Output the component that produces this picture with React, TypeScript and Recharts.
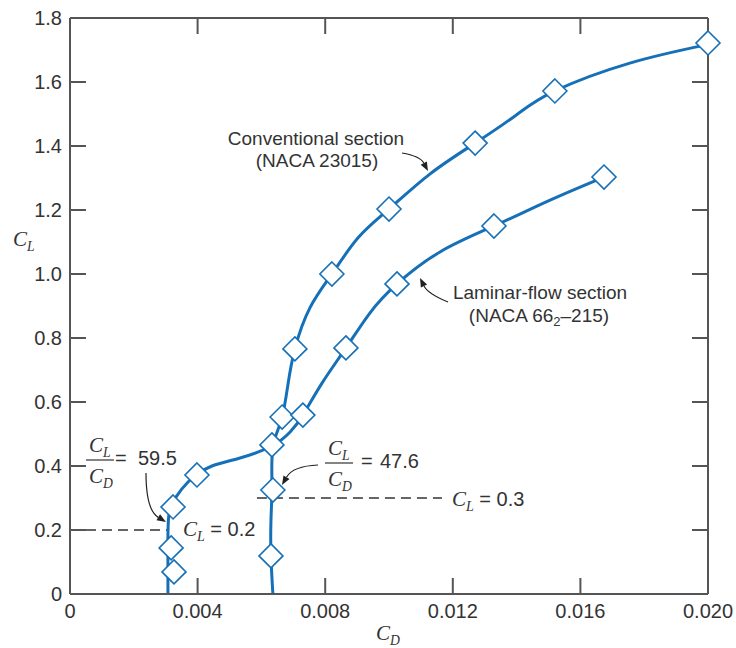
import React from 'react';
import { ComposedChart, Line, Scatter, XAxis, YAxis, ReferenceLine, Customized } from 'recharts';

// measured points (diamond markers), CD vs CL
const conventionalPoints = [
  { cd: 0.0063, cl: 0.119 },
  { cd: 0.00636, cl: 0.325 },
  { cd: 0.00665, cl: 0.553 },
  { cd: 0.00705, cl: 0.766 },
  { cd: 0.00821, cl: 1.0 },
  { cd: 0.01, cl: 1.203 },
  { cd: 0.0127, cl: 1.409 },
  { cd: 0.0152, cl: 1.572 },
  { cd: 0.02, cl: 1.722 },
];

const laminarPoints = [
  { cd: 0.00326, cl: 0.069 },
  { cd: 0.00317, cl: 0.144 },
  { cd: 0.00323, cl: 0.272 },
  { cd: 0.00398, cl: 0.372 },
  { cd: 0.00633, cl: 0.466 },
  { cd: 0.0073, cl: 0.559 },
  { cd: 0.00865, cl: 0.769 },
  { cd: 0.01025, cl: 0.969 },
  { cd: 0.01329, cl: 1.15 },
  { cd: 0.01674, cl: 1.303 },
];

// faired curves
const conventionalCurve = [
  { cd: 0.00636, cl: 0 },
  { cd: 0.0063, cl: 0.119 },
  { cd: 0.0063, cl: 0.231 },
  { cd: 0.00633, cl: 0.325 },
  { cd: 0.00633, cl: 0.419 },
  { cd: 0.00643, cl: 0.488 },
  { cd: 0.00665, cl: 0.553 },
  { cd: 0.00683, cl: 0.653 },
  { cd: 0.00705, cl: 0.766 },
  { cd: 0.00752, cl: 0.894 },
  { cd: 0.00821, cl: 1.0 },
  { cd: 0.00903, cl: 1.113 },
  { cd: 0.01, cl: 1.203 },
  { cd: 0.01129, cl: 1.313 },
  { cd: 0.0127, cl: 1.409 },
  { cd: 0.01395, cl: 1.494 },
  { cd: 0.0152, cl: 1.572 },
  { cd: 0.01755, cl: 1.659 },
  { cd: 0.01994, cl: 1.716 },
];

const laminarCurve = [
  { cd: 0.00307, cl: 0 },
  { cd: 0.00307, cl: 0.144 },
  { cd: 0.0031, cl: 0.247 },
  { cd: 0.00332, cl: 0.303 },
  { cd: 0.0037, cl: 0.35 },
  { cd: 0.00401, cl: 0.375 },
  { cd: 0.00445, cl: 0.4 },
  { cd: 0.00533, cl: 0.425 },
  { cd: 0.00633, cl: 0.4625 },
  { cd: 0.0069, cl: 0.506 },
  { cd: 0.0073, cl: 0.559 },
  { cd: 0.0079, cl: 0.659 },
  { cd: 0.00865, cl: 0.769 },
  { cd: 0.0094, cl: 0.878 },
  { cd: 0.01025, cl: 0.969 },
  { cd: 0.0116, cl: 1.069 },
  { cd: 0.01329, cl: 1.15 },
  { cd: 0.01505, cl: 1.231 },
  { cd: 0.01674, cl: 1.303 },
];

const cdTicks = [0, 0.004, 0.008, 0.012, 0.016, 0.02];
const clTicks = [0, 0.2, 0.4, 0.6, 0.8, 1.0, 1.2, 1.4, 1.6, 1.8];

const BLUE = '#1570b8';
const AXIS = '#555';
const INK = '#333';
const SANS = '"Liberation Sans", Arial, sans-serif';
const SERIF = '"Liberation Serif", "Times New Roman", serif';

// plot box (follows from the chart margins and axis sizes below)
const BOX = { left: 70, top: 18, right: 708, bottom: 594 };
const CD_MAX = 0.02;
const CL_MAX = 1.8;
const toX = (cd: number) => BOX.left + (cd / CD_MAX) * (BOX.right - BOX.left);
const toY = (cl: number) => BOX.bottom - (cl / CL_MAX) * (BOX.bottom - BOX.top);

const Diamond = (props: any) => {
  const { cx, cy } = props;
  const r = 12;
  return (
    <path
      d={`M${cx},${cy - r}L${cx + r},${cy}L${cx},${cy + r}L${cx - r},${cy}Z`}
      fill="#fff"
      stroke={BLUE}
      strokeWidth={1.6}
    />
  );
};

// curved pointer: start, control, end
const Arrow = ({ p }: { p: number[] }) => {
  const [x0, y0, qx, qy, x1, y1] = p;
  const a = Math.atan2(y1 - qy, x1 - qx);
  const bx = x1 - 9 * Math.cos(a);
  const by = y1 - 9 * Math.sin(a);
  const nx = -Math.sin(a) * 3.5;
  const ny = Math.cos(a) * 3.5;
  return (
    <g>
      <path d={`M${x0},${y0}Q${qx},${qy} ${bx},${by}`} fill="none" stroke="#222" strokeWidth={1.2} />
      <path d={`M${x1},${y1}L${bx + nx},${by + ny}L${bx - nx},${by - ny}Z`} fill="#222" />
    </g>
  );
};

const Coef = ({ x, y, sub, size = 21 }: { x: number; y: number; sub: string; size?: number }) => (
  <text x={x} y={y} fontFamily={SERIF} fontStyle="italic" fontSize={size} fill={INK}>
    C<tspan fontSize={size * 0.65} dy={5}>{sub}</tspan>
  </text>
);

const Ratio = ({ x, bar, eqX, numX, value }: { x: number; bar: number; eqX: number; numX: number; value: string }) => (
  <g>
    <Coef x={x - 11} y={bar - 8} sub="L" />
    <line x1={x - 14} x2={x + 14} y1={bar} y2={bar} stroke={INK} strokeWidth={1.2} />
    <Coef x={x - 11} y={bar + 23} sub="D" />
    <text x={eqX} y={bar + 5} fontFamily={SANS} fontSize={20} fill={INK}>=</text>
    <text x={numX} y={bar + 5} fontFamily={SANS} fontSize={20} fill={INK}>{value}</text>
  </g>
);

const ClLabel = ({ x, y, value }: { x: number; y: number; value: string }) => (
  <text x={x} y={y} fontSize={20} fill={INK}>
    <tspan fontFamily={SERIF} fontStyle="italic" fontSize={21}>C</tspan>
    <tspan fontFamily={SERIF} fontStyle="italic" fontSize={14} dy={5}>L</tspan>
    <tspan fontFamily={SANS} dy={-5}>{` = ${value}`}</tspan>
  </text>
);

// inward ticks on the top and right edges of the frame
const FrameTicks = () => (
  <g stroke={AXIS} strokeWidth={2}>
    {cdTicks.slice(1, -1).map((t) => (
      <line key={`t${t}`} x1={toX(t)} x2={toX(t)} y1={BOX.top} y2={BOX.top + 16} />
    ))}
    {clTicks.slice(1, -1).map((t) => (
      <line key={`r${t}`} x1={BOX.right} x2={BOX.right - 16} y1={toY(t)} y2={toY(t)} />
    ))}
  </g>
);

const Annotations = () => (
  <g>
    <FrameTicks />
    <text x={316} y={145} textAnchor="middle" fontFamily={SANS} fontSize={19} fill={INK}>Conventional section</text>
    <text x={317} y={167} textAnchor="middle" fontFamily={SANS} fontSize={19} fill={INK}>(NACA 23015)</text>
    <Arrow p={[402, 153, 420, 156, 428, 171]} />

    <text x={540} y={299} textAnchor="middle" fontFamily={SANS} fontSize={19} fill={INK}>Laminar-flow section</text>
    <text x={539} y={322} textAnchor="middle" fontFamily={SANS} fontSize={19} fill={INK}>
      (NACA 66<tspan fontSize={13} dy={4}>2</tspan><tspan dy={-4}>–215)</tspan>
    </text>
    <Arrow p={[448, 302, 428, 294, 420, 278]} />

    <Ratio x={100} bar={460} eqX={115} numX={138} value="59.5" />
    <Arrow p={[146, 473, 146, 510, 166, 522]} />
    <Ratio x={339} bar={463} eqX={361} numX={380} value="47.6" />
    <Arrow p={[318, 465, 293, 466, 282, 485]} />

    <ClLabel x={183} y={536} value="0.2" />
    <ClLabel x={452} y={506} value="0.3" />

    <Coef x={13} y={246} sub="L" />
    <Coef x={376} y={640} sub="D" />
  </g>
);

const tickStyle = { fill: INK, fontSize: 20, fontFamily: SANS };
const lineStyle = { stroke: AXIS, strokeWidth: 2 };

export default function App() {
  return (
    <div style={{ position: 'absolute', left: 0, top: 0, background: '#fff' }}>
      <ComposedChart width={736} height={648} margin={{ top: 17, right: 27, bottom: 0, left: 0 }}>
        <XAxis
          type="number"
          dataKey="cd"
          domain={[0, CD_MAX]}
          ticks={cdTicks}
          interval={0}
          height={54}
          tickSize={-16}
          tickMargin={26}
          axisLine={lineStyle}
          tickLine={lineStyle}
          tick={tickStyle}
          tickFormatter={(v: number) => (v === 0 ? '0' : v.toFixed(3))}
        />
        <XAxis
          xAxisId="top"
          orientation="top"
          type="number"
          dataKey="cd"
          domain={[0, CD_MAX]}
          height={1}
          axisLine={lineStyle}
          tickLine={false}
          tick={false}
        />
        <YAxis
          type="number"
          domain={[0, CL_MAX]}
          ticks={clTicks}
          interval={0}
          width={70}
          tickSize={-16}
          tickMargin={24}
          axisLine={lineStyle}
          tickLine={lineStyle}
          tick={tickStyle}
          tickFormatter={(v: number) => (v === 0 ? '0' : v.toFixed(1))}
        />
        <YAxis
          yAxisId="right"
          orientation="right"
          type="number"
          domain={[0, CL_MAX]}
          width={1}
          axisLine={lineStyle}
          tickLine={false}
          tick={false}
        />
        <ReferenceLine
          segment={[{ x: 0, y: 0.2 }, { x: 0.00304, y: 0.2 }]}
          stroke="#333"
          strokeWidth={1.3}
          strokeDasharray="10 6"
        />
        <ReferenceLine
          segment={[{ x: 0.00586, y: 0.3 }, { x: 0.01166, y: 0.3 }]}
          stroke="#333"
          strokeWidth={1.3}
          strokeDasharray="10 6"
        />
        <Line
          data={conventionalCurve}
          dataKey="cl"
          type="natural"
          stroke={BLUE}
          strokeWidth={3}
          dot={false}
          activeDot={false}
          isAnimationActive={false}
        />
        <Line
          data={laminarCurve}
          dataKey="cl"
          type="natural"
          stroke={BLUE}
          strokeWidth={3}
          dot={false}
          activeDot={false}
          isAnimationActive={false}
        />
        <Scatter data={conventionalPoints} dataKey="cl" shape={Diamond} isAnimationActive={false} />
        <Scatter data={laminarPoints} dataKey="cl" shape={Diamond} isAnimationActive={false} />
        {/* keeps the top and right frame axes in the chart */}
        <Scatter data={[]} xAxisId="top" yAxisId="right" dataKey="cl" isAnimationActive={false} />
        <Customized component={<Annotations />} />
      </ComposedChart>
    </div>
  );
}
